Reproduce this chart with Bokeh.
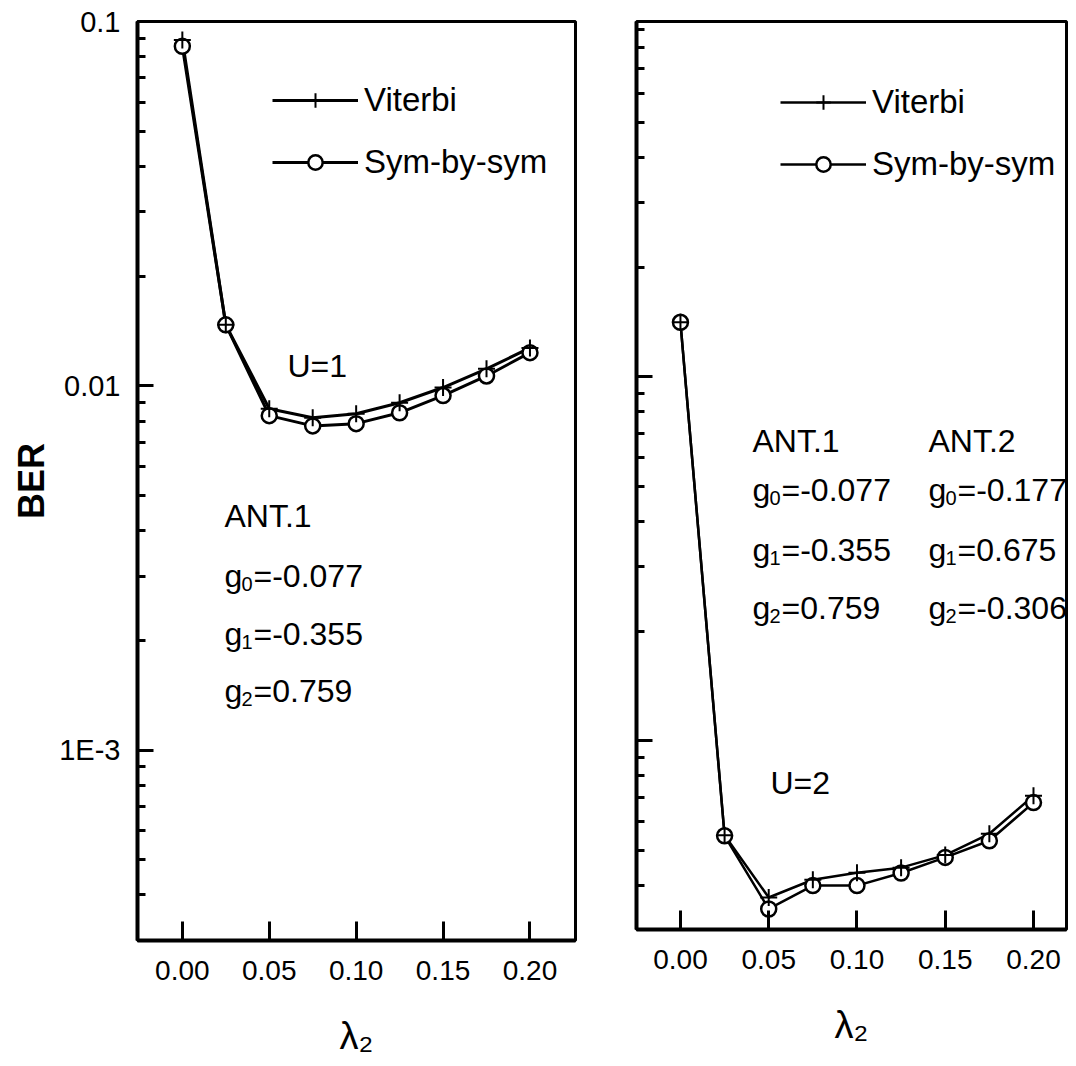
from bokeh.plotting import figure
from bokeh.layouts import row
from bokeh.models import FixedTicker, Label, Legend, LegendItem, Range1d
from bokeh.embed import file_html
from bokeh.resources import INLINE

# ---------------- data ----------------
lam2 = [0.0, 0.025, 0.05, 0.075, 0.10, 0.125, 0.15, 0.175, 0.20]
u1_viterbi = [0.089, 0.0147, 0.00865, 0.00817, 0.00838, 0.00898, 0.00989, 0.01113, 0.0127]
u1_symbysym = [0.0855, 0.0147, 0.00828, 0.00776, 0.00787, 0.00843, 0.0094, 0.01064, 0.01233]
u2_viterbi = [0.0141, 5.5e-4, 3.71e-4, 4.15e-4, 4.34e-4, 4.48e-4, 4.85e-4, 5.55e-4, 7.06e-4]
u2_symbysym = [0.0141, 5.48e-4, 3.45e-4, 4.0e-4, 4.0e-4, 4.33e-4, 4.78e-4, 5.31e-4, 6.76e-4]

x_ticks = [0.0, 0.05, 0.10, 0.15, 0.20]
x_tick_labels = ["0.00", "0.05", "0.10", "0.15", "0.20"]
y_ticks = [1e-3, 1e-2, 1e-1]
y_tick_labels = ["1E-3", "0.01", "0.1"]
series_names = ["Viterbi", "Sym-by-sym"]
ant1_coeffs = ["-0.077", "-0.355", "0.759"]
ant2_coeffs = ["-0.177", "0.675", "-0.306"]

FONT = "Liberation Sans"
TXT = 32
minor = [k * 10.0 ** e for e in (-4, -3, -2) for k in range(2, 10)]


def make_fig(x_range, y_range, frame_w, frame_h, bl, br, bt, bb, show_ylabels):
    p = figure(frame_width=frame_w, frame_height=frame_h, title=None,
               x_range=Range1d(*x_range), y_range=Range1d(*y_range),
               y_axis_type="log", output_backend="svg", toolbar_location=None,
               min_border_left=bl, min_border_right=br,
               min_border_top=bt, min_border_bottom=bb,
               background_fill_color="white", border_fill_color="white")
    p.grid.visible = False
    p.outline_line_color = "black"
    p.outline_line_width = 3
    xa = p.xaxis[0]
    xa.ticker = FixedTicker(ticks=x_ticks)
    xa.major_label_overrides = dict(zip(x_ticks, x_tick_labels))
    xa.axis_line_width = 4
    xa.major_tick_in = 19
    xa.major_tick_out = 0
    xa.major_tick_line_width = 3
    xa.minor_tick_line_color = None
    xa.major_label_standoff = 20
    xa.major_label_text_font = FONT
    xa.major_label_text_font_size = "28px"
    xa.major_label_text_color = "black"
    xa.axis_label = "λ₂"
    xa.axis_label_standoff = 32
    xa.axis_label_text_font = FONT
    xa.axis_label_text_font_style = "normal"
    xa.axis_label_text_font_size = "38px"
    xa.axis_label_text_color = "black"
    ya = p.yaxis[0]
    ya.ticker = FixedTicker(ticks=y_ticks, minor_ticks=minor)
    ya.axis_line_width = 4
    ya.major_tick_in = 16
    ya.major_tick_out = 0
    ya.major_tick_line_width = 3
    ya.minor_tick_in = 8
    ya.minor_tick_out = 0
    ya.minor_tick_line_width = 3
    ya.major_label_text_font = FONT
    ya.major_label_text_color = "black"
    if show_ylabels:
        ya.major_label_overrides = dict(zip(y_ticks, y_tick_labels))
        ya.major_label_standoff = 17
        ya.major_label_text_font_size = "29px"
        ya.axis_label = "BER"
        ya.axis_label_standoff = 4
        ya.axis_label_text_font = FONT
        ya.axis_label_text_font_style = "bold"
        ya.axis_label_text_font_size = "36px"
        ya.axis_label_text_color = "black"
    else:
        ya.major_label_overrides = {t: "" for t in y_ticks}
        ya.major_label_standoff = 0
        ya.major_label_text_color = None
    return p


def add_text(p, x, y, text, size=TXT, **kw):
    p.add_layout(Label(x=x, y=y, x_units="screen", y_units="screen", text=text,
                       text_font=FONT, text_font_size=f"{size}px", text_color="black",
                       text_baseline="alphabetic", **kw))


def add_coeff(p, x, y, idx, val):
    add_text(p, x, y, "g")
    add_text(p, x + 17, y - 8, str(idx), size=20)
    add_text(p, x + 29, y, "=" + val)


def add_series(p, v, s, lw):
    lv = p.line(lam2, v, line_color="black", line_width=lw)
    ls = p.line(lam2, s, line_color="black", line_width=lw)
    cs = p.scatter(lam2, s, marker="circle", size=15, line_color="black",
                   line_width=2.5, fill_color="white")
    cv = p.scatter(lam2, v, marker="cross", size=17, line_color="black", line_width=2)
    return [lv, cv], [ls, cs]


def add_legend(p, rv, rs, loc):
    leg = Legend(items=[LegendItem(label=series_names[0], renderers=rv),
                        LegendItem(label=series_names[1], renderers=rs)],
                 location=loc, glyph_width=86, glyph_height=36, label_standoff=6,
                 label_text_font=FONT, label_text_font_size="33px",
                 label_text_color="black", spacing=24, padding=0, margin=0,
                 border_line_color=None, background_fill_alpha=0)
    p.add_layout(leg)


# ---------------- left panel (U=1) ----------------
p1 = make_fig((-0.0258, 0.2262), (3e-4, 0.1), 438, 919, 137, 23, 21, 118, True)
rv, rs = add_series(p1, u1_viterbi, u1_symbysym, 3)
add_legend(p1, rv, rs, (135, 759))
add_text(p1, 150, 575, "U=1")
add_text(p1, 87, 425, "ANT.1")
for i, (c, yy) in enumerate(zip(ant1_coeffs, [365, 307, 250])):
    add_coeff(p1, 87, yy, i, c)

# ---------------- right panel (U=2) ----------------
p2 = make_fig((-0.0249, 0.2187), (3.03e-4, 0.0945), 430, 908, 38, 2, 21, 129, False)
rv2, rs2 = add_series(p2, u2_viterbi, u2_symbysym, 2.5)
add_legend(p2, rv2, rs2, (144, 746))
add_text(p2, 134, 147, "U=2")
add_text(p2, 116, 489, "ANT.1")
add_text(p2, 292, 489, "ANT.2")
for i, (c1, c2, yy) in enumerate(zip(ant1_coeffs, ant2_coeffs, [440, 380, 322])):
    add_coeff(p2, 116, yy, i, c1)
    add_coeff(p2, 292, yy, i, c2)

layout = row(p1, p2)
open("out.html", "w").write(file_html(layout, INLINE))
